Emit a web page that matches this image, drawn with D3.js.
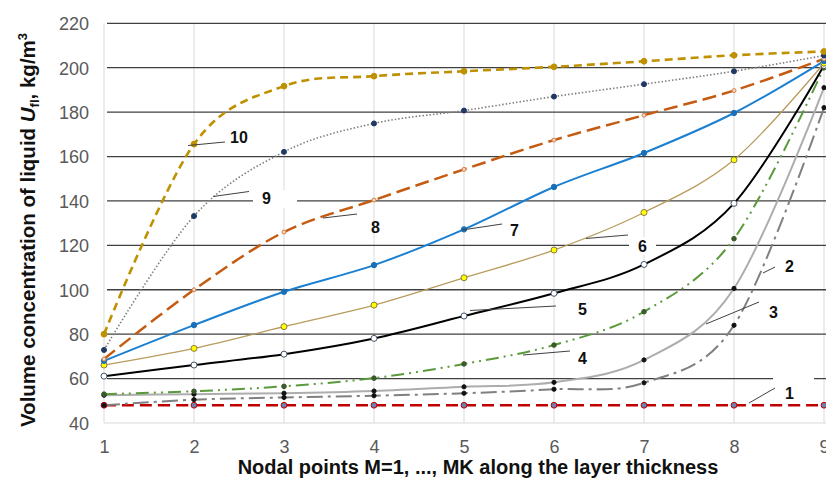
<!DOCTYPE html>
<html>
<head>
<meta charset="utf-8">
<script src="https://cdn.jsdelivr.net/npm/d3@7"></script>
<style>
html,body{margin:0;padding:0;background:#fff;}
svg{display:block;font-family:"Liberation Sans",Arial,sans-serif;}
</style>
</head>
<body>
<svg id="chart" width="826" height="482"></svg>
<script>
// ---- data ----
const nodes = [1, 2, 3, 4, 5, 6, 7, 8, 9];
const yTicks = [40, 60, 80, 100, 120, 140, 160, 180, 200, 220];
const curve1  = [48, 48, 48, 48, 48, 48, 48, 48, 48];
const curve2  = [48, 50.5, 51.5, 52.3, 53.4, 55.2, 58.1, 84, 182];
const curve3  = [52.5, 53, 53.4, 54.4, 56.3, 58.3, 68.4, 100.6, 191];
const curve4  = [53, 54.3, 56.5, 60.2, 66.6, 75.1, 90.1, 123, 200];
const curve5  = [61.1, 66.1, 71, 78.1, 88.2, 98.4, 111.4, 138.9, 201];
const curve6  = [66.1, 73.6, 83.4, 93.1, 105.4, 117.9, 134.8, 158.5, 202];
const curve7  = [68, 84.1, 99.1, 111.1, 127.2, 146.3, 161.6, 179.6, 203];
const curve8  = [68.8, 100, 126, 140.4, 154.2, 167.4, 178.6, 189.7, 204];
const curve9  = [72.9, 133.2, 162.1, 174.9, 180.7, 187, 192.6, 198.4, 205.5];
const curve10 = [80, 165.6, 191.7, 196.2, 198.4, 200.4, 202.9, 205.6, 207.3];
const seriesNames = ["1","2","3","4","5","6","7","8","9","10"];

// ---- styles ----
const styles = [
  {v: curve1,  stroke:"#C00000", w:2.5, dash:"12,6", mFill:"#6F7FB0", mStroke:"#C00000", r:2.9},
  {v: curve2,  stroke:"#808080", w:2,   dash:"16,5,3,5", mFill:"#111", mStroke:"#111", r:2.1},
  {v: curve3,  stroke:"#ADADAD", w:2,   dash:null, mFill:"#111", mStroke:"#111", r:2.1},
  {v: curve4,  stroke:"#5A9A3A", w:2,   dash:"13,5,2,5,2,5", mFill:"#3A5A2A", mStroke:"#3A5A2A", r:2.3},
  {v: curve5,  stroke:"#000000", w:2,   dash:null, mFill:"#fff", mStroke:"#44546A", r:3},
  {v: curve6,  stroke:"#B99B5C", w:1.3, dash:null, mFill:"#FFFF00", mStroke:"#8C7A40", r:3},
  {v: curve7,  stroke:"#1B80D2", w:2,   dash:null, mFill:"#1B6FB8", mStroke:"#1B6FB8", r:2.7},
  {v: curve8,  stroke:"#C55A11", w:2.5, dash:"14,6", mFill:"#F4D8C4", mStroke:"#D8804A", r:2},
  {v: curve9,  stroke:"#7F7F7F", w:1.6, dash:"1.5,2", mFill:"#1F3864", mStroke:"#1F3864", r:2.5},
  {v: curve10, stroke:"#BF9000", w:2.6, dash:"8,5", mFill:"#BF9000", mStroke:"#BF9000", r:2.9}
];

const svg = d3.select("#chart");
const x = d3.scaleLinear().domain([1, 9]).range([104, 824]);
const y = d3.scaleLinear().domain([40, 220]).range([423, 23.3]);

// vertical gridlines
svg.append("g").selectAll("line").data(nodes).join("line")
  .attr("x1", d => x(d)).attr("x2", d => x(d))
  .attr("y1", y(220)).attr("y2", y(40))
  .attr("stroke", "#D9D9D9").attr("stroke-width", 1);

// horizontal gridlines (dark), baseline light
svg.append("g").selectAll("line").data(yTicks).join("line")
  .attr("x1", d => d === 40 ? x(1) : x(1) + 3).attr("x2", 826)
  .attr("y1", d => y(d)).attr("y2", d => y(d))
  .attr("stroke", d => d === 40 ? "#D9D9D9" : "#404040")
  .attr("stroke-width", d => d === 40 ? 1.2 : 1.3);

// white boxes behind some labels (interrupt gridlines)
const boxes = [[253, 190, 44, 18], [629, 237, 27, 18], [773, 372, 41, 13]];
svg.append("g").selectAll("rect").data(boxes).join("rect")
  .attr("x", d => d[0]).attr("y", d => d[1]).attr("width", d => d[2]).attr("height", d => d[3])
  .attr("fill", "#fff");

// axes tick labels
const yAxis = d3.axisLeft(y).tickValues(yTicks).tickSize(0).tickPadding(0);
svg.append("g").attr("transform", "translate(89,0)").call(yAxis)
  .call(g => g.select(".domain").remove())
  .call(g => g.selectAll("text").attr("fill", "#595959").attr("font-size", "18px")
    .attr("font-family", "Liberation Sans, Arial, sans-serif").attr("dy", "0.35em"));

const xAxis = d3.axisBottom(x).tickValues(nodes).tickSize(0).tickPadding(0).tickFormat(d3.format("d"));
svg.append("g").attr("transform", "translate(0,440)").call(xAxis)
  .call(g => g.select(".domain").remove())
  .call(g => g.selectAll("text").attr("fill", "#595959").attr("font-size", "18px")
    .attr("font-family", "Liberation Sans, Arial, sans-serif").attr("dy", "0.71em"));

// series lines
const line = d3.line().x((d, i) => x(nodes[i])).y(d => y(d)).curve(d3.curveCardinal.tension(0));
const gS = svg.append("g");
styles.forEach(s => {
  gS.append("path").attr("d", line(s.v)).attr("fill", "none")
    .attr("stroke", s.stroke).attr("stroke-width", s.w)
    .attr("stroke-dasharray", s.dash).attr("stroke-linecap", "butt");
});
styles.forEach(s => {
  gS.append("g").selectAll("circle").data(s.v).join("circle")
    .attr("cx", (d, i) => x(nodes[i])).attr("cy", d => y(d)).attr("r", s.r)
    .attr("fill", s.mFill).attr("stroke", s.mStroke).attr("stroke-width", 1);
});

// labels with leader lines
const labels = [
  {t:"10", tx:230, ty:137, x1:188, y1:145.5, x2:225, y2:142},
  {t:"9",  tx:262, ty:198, x1:213, y1:196.5, x2:249, y2:191.5},
  {t:"8",  tx:371, ty:227, x1:323, y1:218,   x2:357, y2:214},
  {t:"7",  tx:510, ty:230, x1:462, y1:230,   x2:502, y2:224},
  {t:"6",  tx:638, ty:246, x1:586, y1:238.5, x2:628, y2:235},
  {t:"5",  tx:578, ty:309, x1:470, y1:310.5, x2:556, y2:306},
  {t:"4",  tx:578, ty:358, x1:523, y1:355,   x2:570, y2:351},
  {t:"3",  tx:769, ty:312, x1:706, y1:324,   x2:759, y2:302},
  {t:"2",  tx:785, ty:266, x1:763, y1:273,   x2:775, y2:267},
  {t:"1",  tx:785, ty:393, x1:749, y1:403,   x2:775, y2:388}
];
const gL = svg.append("g");
gL.selectAll("line").data(labels).join("line")
  .attr("x1", d => d.x1).attr("y1", d => d.y1).attr("x2", d => d.x2).attr("y2", d => d.y2)
  .attr("stroke", "#404040").attr("stroke-width", 1);
gL.selectAll("text").data(labels).join("text")
  .attr("x", d => d.tx).attr("y", d => d.ty).attr("dy", "0.35em")
  .attr("font-size", "16px").attr("font-weight", "bold").attr("fill", "#111")
  .text(d => d.t);

// axis titles
svg.append("text").attr("x", 478).attr("y", 474).attr("text-anchor", "middle")
  .attr("font-size", "20px").attr("font-weight", "bold").attr("fill", "#111")
  .text("Nodal points M=1, ..., MK along the layer thickness");

const yt = svg.append("text").attr("transform", "translate(35,230) rotate(-90)")
  .attr("text-anchor", "middle").attr("font-size", "20.5px").attr("font-weight", "bold").attr("fill", "#111");
yt.append("tspan").text("Volume concentration of liquid ");
yt.append("tspan").attr("font-style", "italic").text("U");
yt.append("tspan").attr("font-size", "13px").attr("dy", "4").text("fl");
yt.append("tspan").attr("dy", "-4").text(", kg/m");
yt.append("tspan").attr("font-size", "13px").attr("dy", "-8").text("3");
</script>
</body>
</html>
